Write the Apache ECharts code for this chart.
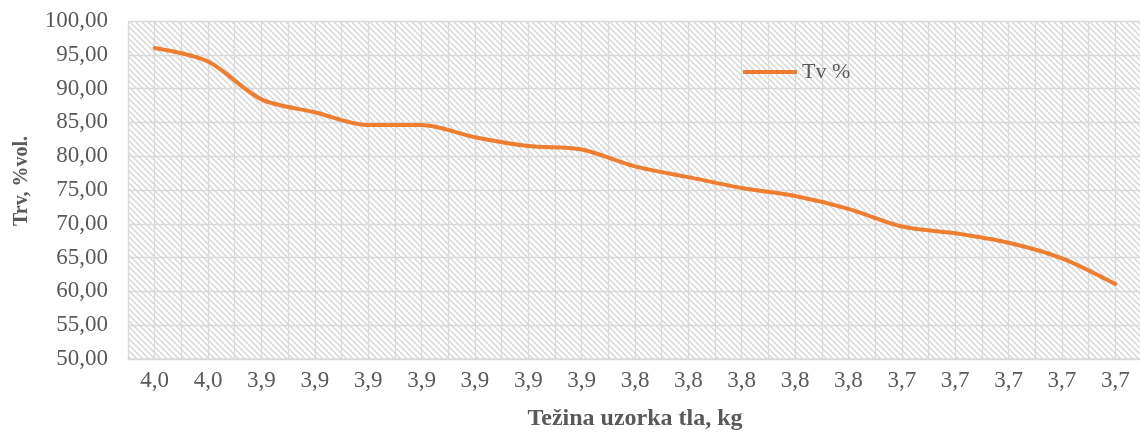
<!DOCTYPE html>
<html>
<head>
<meta charset="utf-8">
<script src="https://cdn.jsdelivr.net/npm/echarts@6/dist/echarts.min.js"></script>
<style>
  html, body { margin: 0; padding: 0; background: #fff; }
  #main { width: 1140px; height: 434px; }
</style>
</head>
<body>
<div id="main"></div>
<script>
// podaci
var categories = ['4,0', '4,0', '3,9', '3,9', '3,9', '3,9', '3,9', '3,9', '3,9',
                  '3,8', '3,8', '3,8', '3,8', '3,8', '3,7', '3,7', '3,7', '3,7', '3,7'];
var tvValues = [96.0, 94.0, 88.4, 86.5, 84.6, 84.6, 82.8, 81.5, 81.0,
                78.5, 76.9, 75.3, 74.1, 72.2, 69.6, 68.6, 67.2, 64.9, 61.1];

// srafura u pozadini
var tile = document.createElement('canvas');
tile.width = 6; tile.height = 6;
var ctx = tile.getContext('2d');
ctx.fillStyle = '#ffffff';
ctx.fillRect(0, 0, 6, 6);
ctx.strokeStyle = '#d4d4d4';
ctx.lineWidth = 1.3;
[-6, 0, 6].forEach(function (o) {
    ctx.beginPath();
    ctx.moveTo(o - 1, -1);
    ctx.lineTo(o + 7, 7);
    ctx.stroke();
});

var myChart = echarts.init(document.getElementById('main'));

var font = '"Liberation Serif", "Times New Roman", serif';

var option = {
    animation: false,
    textStyle: { fontFamily: font },
    grid: {
        left: 128, right: -2, top: 21, bottom: 75,
        outerBoundsMode: 'none',
        containLabel: false,
        show: true,
        borderWidth: 0,
        backgroundColor: { image: tile, repeat: 'repeat' }
    },
    legend: {
        data: ['Tv %'],
        left: 738, top: 56,
        icon: 'rect',
        itemWidth: 54, itemHeight: 4,
        itemGap: 4,
        textStyle: { fontFamily: font, fontSize: 22, color: '#595959' }
    },
    xAxis: [
        {
            type: 'category',
            data: categories,
            name: 'Težina uzorka tla, kg',
            nameLocation: 'middle',
            nameGap: 48,
            nameTextStyle: { fontFamily: font, fontSize: 24, fontWeight: 'bold', color: '#595959' },
            axisLine: { lineStyle: { color: '#d9d9d9', width: 1.5 } },
            axisTick: { show: false },
            axisLabel: { fontFamily: font, fontSize: 23, color: '#595959', margin: 10 },
            splitLine: { show: false }
        },
        {
            type: 'value',
            min: 0, max: 38, interval: 1,
            show: true,
            axisLine: { show: false },
            axisTick: { show: false },
            axisLabel: { show: false },
            splitLine: { show: true, lineStyle: { color: '#d9d9d9', width: 1.3 } }
        }
    ],
    yAxis: {
        type: 'value',
        min: 50, max: 100, interval: 5,
        name: 'Trv, %vol.',
        nameLocation: 'middle',
        nameGap: 96,
        nameTextStyle: {
            fontFamily: font, fontSize: 20, fontWeight: 'bold', color: '#595959',
            padding: [0, 0, 0, 18]
        },
        axisLine: { show: false },
        axisTick: { show: false },
        axisLabel: {
            fontFamily: font, fontSize: 23, color: '#595959', margin: 20,
            formatter: function (v) { return v.toFixed(2).replace('.', ','); }
        },
        splitLine: { lineStyle: { color: '#d9d9d9', width: 1.3 } }
    },
    series: [{
        name: 'Tv %',
        type: 'line',
        data: tvValues,
        smooth: 0.3,
        symbol: 'none',
        itemStyle: { color: '#ED7D31' },
        lineStyle: { color: '#ED7D31', width: 4, cap: 'round' }
    }]
};

myChart.setOption(option);
</script>
</body>
</html>
